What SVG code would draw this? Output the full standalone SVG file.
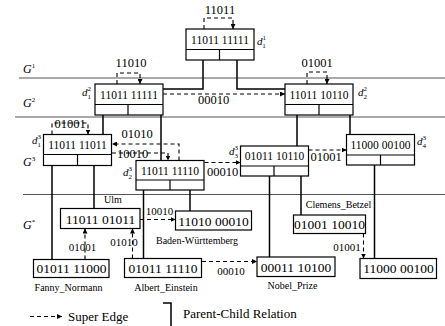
<svg xmlns="http://www.w3.org/2000/svg" width="445" height="326" viewBox="0 0 445 326">
<defs>
<marker id="ah" viewBox="0 0 10 10" refX="10" refY="5" markerWidth="5" markerHeight="5" markerUnits="userSpaceOnUse" orient="auto">
<path d="M0,0 L10,5 L0,10 z" fill="#000"/>
</marker>
<style>
text{font-family:"Liberation Serif","Times New Roman",serif;fill:#000}
.bx{fill:#fff;stroke:#000;stroke-width:1.2}
.t1{font-size:11.5px;text-anchor:middle}
.t2{font-size:13.5px;text-anchor:middle}
.el{font-size:12.5px;text-anchor:middle}
.es{font-size:11px;text-anchor:middle}
.nl{font-size:10px;text-anchor:middle}
.lg{font-size:13px}
.dl{font-size:11px;font-style:italic}
.gl{font-size:12px;font-style:italic}
.sp{font-size:7px;font-style:normal}
.pc{fill:none;stroke:#000;stroke-width:1.5}
.se{fill:none;stroke:#000;stroke-width:1.1;stroke-dasharray:4,3;marker-end:url(#ah)}
.sep{stroke:#555;stroke-width:1}
</style>
</defs>
<g id="layers">
<line class="sep" x1="19" y1="78" x2="445" y2="78"/>
<line class="sep" x1="15" y1="117" x2="445" y2="117"/>
<line class="sep" x1="23" y1="194.5" x2="445" y2="194.5"/>
<text class="gl" x="23" y="73">G<tspan class="sp" dy="-5">1</tspan></text>
<text class="gl" x="23" y="107">G<tspan class="sp" dy="-5">2</tspan></text>
<text class="gl" x="23" y="166">G<tspan class="sp" dy="-5">3</tspan></text>
<text class="gl" x="23" y="229">G<tspan class="sp" dy="-5">*</tspan></text>
</g>
<g id="connectors">
<!-- parent-child -->
<polyline class="pc" points="203,60 203,89 163,89"/>
<polyline class="pc" points="237,60 237,89 285,89"/>
<line class="pc" x1="103" y1="115" x2="103" y2="134.5"/>
<line class="pc" x1="161" y1="115" x2="161" y2="160.5"/>
<line class="pc" x1="297" y1="115" x2="297" y2="146"/>
<line class="pc" x1="350" y1="115" x2="350" y2="134.5"/>
<line class="pc" x1="52" y1="165.5" x2="52" y2="259.5"/>
<line class="pc" x1="94" y1="165.5" x2="94" y2="208.5"/>
<line class="pc" x1="143.5" y1="190" x2="143.5" y2="258.5"/>
<line class="pc" x1="190" y1="190" x2="190" y2="211"/>
<line class="pc" x1="269.5" y1="176" x2="269.5" y2="257"/>
<line class="pc" x1="301" y1="176" x2="301" y2="215"/>
<line class="pc" x1="374.5" y1="165" x2="374.5" y2="258.5"/>
<!-- super edges -->
<polyline class="se" points="204,29 204,18 233,18 233,29"/>
<polyline class="se" points="117,84 117,73 140,73 140,84"/>
<polyline class="se" points="307,84 307,72 327,72 327,84"/>
<line class="se" x1="163" y1="94" x2="285" y2="94"/>
<polyline class="se" points="52,134.5 52,123 88,123 88,134.5"/>
<polyline class="se" points="179,160.5 179,144 112,144"/>
<polyline class="se" points="112,153 168,153 168,160.5"/>
<line class="se" x1="204.5" y1="162.5" x2="240.5" y2="162.5"/>
<line class="se" x1="308.5" y1="150" x2="346.5" y2="150"/>
<line class="se" x1="140" y1="219.5" x2="175.5" y2="219.5"/>
<line class="se" x1="85" y1="259.5" x2="85" y2="228.5"/>
<line class="se" x1="132.5" y1="258.5" x2="132.5" y2="228.5"/>
<line class="se" x1="202" y1="261.5" x2="257" y2="261.5"/>
<line class="se" x1="363.5" y1="233.5" x2="363.5" y2="258.5"/>
<!-- edge labels -->
<text class="el" x="220" y="14">11011</text>
<text class="el" x="131" y="67">11010</text>
<text class="el" x="317" y="67">01001</text>
<text class="el" x="213.5" y="104">00010</text>
<text class="el" x="70" y="127.5">01001</text>
<text class="el" x="137" y="137.5">01010</text>
<text class="el" x="132.5" y="157.5">10010</text>
<text class="el" x="222.5" y="176">00010</text>
<text class="el" x="326" y="161">01001</text>
<text class="es" x="159.5" y="215">10010</text>
<text class="es" x="82.5" y="251">01001</text>
<text class="es" x="124" y="246">01010</text>
<text class="es" x="231" y="275">00010</text>
<text class="es" x="347" y="251">01001</text>
</g>
<g id="d1_1">
<rect class="bx" x="186" y="29" width="68" height="31"/>
<line class="bx" x1="186" y1="49.5" x2="254" y2="49.5"/>
<line class="bx" x1="219.5" y1="49.5" x2="219.5" y2="60"/>
<text class="t1" x="220" y="43.5">11011 11111</text>
<text class="dl" x="257" y="45">d<tspan class="sp" dy="-5">1</tspan><tspan class="sp" dx="-3.5" dy="8">1</tspan></text>
</g>
<g id="d1_2">
<rect class="bx" x="95" y="84" width="68" height="31"/>
<line class="bx" x1="95" y1="104.5" x2="163" y2="104.5"/>
<line class="bx" x1="128" y1="104.5" x2="128" y2="115"/>
<text class="t1" x="129" y="98.5">11011 11111</text>
<text class="dl" x="82" y="96">d<tspan class="sp" dy="-5">2</tspan><tspan class="sp" dx="-3.5" dy="8">1</tspan></text>
</g>
<g id="d2_2">
<rect class="bx" x="285" y="84" width="68" height="31"/>
<line class="bx" x1="285" y1="104.5" x2="353" y2="104.5"/>
<line class="bx" x1="319" y1="104.5" x2="319" y2="115"/>
<text class="t1" x="319" y="98.5">11011 10110</text>
<text class="dl" x="358" y="96">d<tspan class="sp" dy="-5">2</tspan><tspan class="sp" dx="-3.5" dy="8">2</tspan></text>
</g>
<g id="d1_3">
<rect class="bx" x="43.5" y="134.5" width="68" height="31"/>
<line class="bx" x1="43.5" y1="154.5" x2="111.5" y2="154.5"/>
<line class="bx" x1="77.5" y1="154.5" x2="77.5" y2="165.5"/>
<text class="t1" x="77.5" y="148.5">11011 11011</text>
<text class="dl" x="32" y="144">d<tspan class="sp" dy="-5">3</tspan><tspan class="sp" dx="-3.5" dy="8">1</tspan></text>
</g>
<g id="d2_3">
<rect class="bx" x="136" y="160.5" width="68" height="29.5"/>
<line class="bx" x1="136" y1="180" x2="204" y2="180"/>
<line class="bx" x1="170" y1="180" x2="170" y2="190"/>
<text class="t1" x="170" y="174.5">11011 11110</text>
<text class="dl" x="123" y="176">d<tspan class="sp" dy="-5">3</tspan><tspan class="sp" dx="-3.5" dy="8">2</tspan></text>
</g>
<g id="d3_3">
<rect class="bx" x="240.5" y="146" width="68" height="30"/>
<line class="bx" x1="240.5" y1="166" x2="308.5" y2="166"/>
<line class="bx" x1="274" y1="166" x2="274" y2="176"/>
<text class="t1" x="274.5" y="160">01011 10110</text>
<text class="dl" x="229" y="155">d<tspan class="sp" dy="-5">3</tspan><tspan class="sp" dx="-3.5" dy="8">3</tspan></text>
</g>
<g id="d4_3">
<rect class="bx" x="346.5" y="134.5" width="68" height="30.5"/>
<line class="bx" x1="346.5" y1="155" x2="414.5" y2="155"/>
<line class="bx" x1="380.5" y1="155" x2="380.5" y2="165"/>
<text class="t1" x="380.5" y="148.5">11000 00100</text>
<text class="dl" x="417" y="145">d<tspan class="sp" dy="-5">3</tspan><tspan class="sp" dx="-3.5" dy="8">4</tspan></text>
</g>
<g id="ulm">
<rect class="bx" x="60.5" y="208.5" width="79.5" height="20"/>
<text class="t2" x="100.5" y="223.5">11011 01011</text>
<text class="nl" x="113" y="203">Ulm</text>
</g>
<g id="baden">
<rect class="bx" x="175.5" y="211" width="76" height="19"/>
<text class="t2" x="213.5" y="225.5">11010 00010</text>
<text class="nl" x="197" y="244">Baden-Württemberg</text>
</g>
<g id="fanny">
<rect class="bx" x="33.5" y="259.5" width="75.5" height="18"/>
<text class="t2" x="71.5" y="273">01011 11000</text>
<text class="nl" x="68.5" y="291">Fanny_Normann</text>
</g>
<g id="albert">
<rect class="bx" x="124.5" y="258.5" width="77" height="19"/>
<text class="t2" x="163" y="272.5">01011 11110</text>
<text class="nl" x="166" y="291">Albert_Einstein</text>
</g>
<g id="nobel">
<rect class="bx" x="257" y="257" width="78" height="19.5"/>
<text class="t2" x="296" y="271.5">00011 10100</text>
<text class="nl" x="292.5" y="289">Nobel_Prize</text>
</g>
<g id="clemens">
<rect class="bx" x="293.5" y="215" width="72" height="18.5"/>
<text class="t2" x="329.5" y="229">01001 10010</text>
<text class="nl" x="338.5" y="208">Clemens_Betzel</text>
</g>
<g id="n11000">
<rect class="bx" x="360" y="258.5" width="76.5" height="20"/>
<text class="t2" x="398.5" y="273">11000 00100</text>
</g>
<g id="legend">
<line class="se" x1="30" y1="316.5" x2="62" y2="316.5"/>
<text class="lg" x="68" y="321">Super Edge</text>
<polyline class="pc" points="163,303 171,303 171,326"/>
<text class="lg" x="183" y="317.5">Parent-Child Relation</text>
</g>
</svg>
